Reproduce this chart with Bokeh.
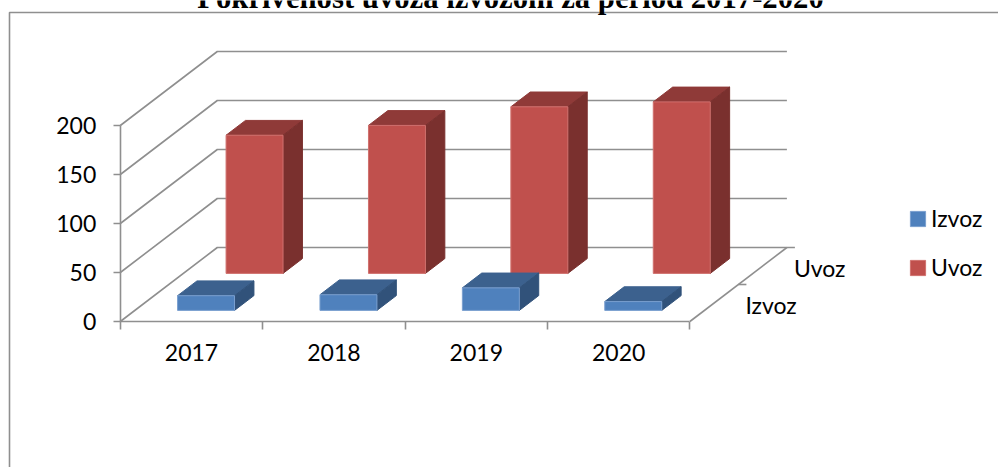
from bokeh.plotting import figure
from bokeh.embed import file_html
from bokeh.resources import INLINE
from bokeh.models import Range1d, LinearAxis, FixedTicker, Legend, LegendItem, Label
from bokeh.core.properties import value

# data
years = ["2017", "2018", "2019", "2020"]
series_names = ["Izvoz", "Uvoz"]
izvoz = [15, 16, 23, 9]
uvoz = [141, 151, 170, 175]
value_ticks = [0, 50, 100, 150, 200]
title_text = "Pokrivenost uvoza izvozom za period 2017-2020"

# layout / projection (pixels)
W, H = 998, 467
X0, Y0 = 119.8, 321.0      # front-left floor corner
CAT_PX = 142.4             # pixels per category
VAL_PX = 0.98              # pixels per unit value
DEPTH_DX, DEPTH_DY = 48.5, 37.0   # pixels per series in depth
GREY = "#8f8f8f"
FONT = "Lato"
FS = "23px"

def px_x(px):
    return (px - X0) / CAT_PX

def px_y(py):
    return (Y0 - py) / VAL_PX

def proj(cat, val, depth):
    return cat + depth * DEPTH_DX / CAT_PX, val + depth * DEPTH_DY / VAL_PX

p = figure(width=W, height=H, output_backend="svg", toolbar_location=None,
           x_range=Range1d(px_x(0), px_x(W)), y_range=Range1d(px_y(H), px_y(0)),
           x_axis_type=None, y_axis_type=None, min_border=0,
           margin=0)
p.outline_line_color = None
p.grid.visible = False

# outer chart frame
p.line([px_x(9), px_x(9), px_x(W + 5)], [px_y(H + 5), px_y(12), px_y(12)],
       line_color=GREY, line_width=1.6)

n_cat = len(years)
n_ser = len(series_names)

# walls: gridlines on the side wall and back wall
wall_xs, wall_ys = [], []
for v in value_ticks:
    a = proj(0, v, 0)
    b = proj(0, v, n_ser)
    c = proj(n_cat, v, n_ser)
    wall_xs.append([a[0], b[0], c[0]])
    wall_ys.append([a[1], b[1], c[1]])
# floor right edge
a = proj(n_cat, 0, 0)
b = proj(n_cat, 0, n_ser)
wall_xs.append([a[0], b[0]])
wall_ys.append([a[1], b[1]])
# depth ticks
for d in range(1, n_ser + 1):
    t = proj(n_cat, 0, d)
    wall_xs.append([t[0], t[0] + 8 / CAT_PX])
    wall_ys.append([t[1], t[1]])
p.multi_line(wall_xs, wall_ys, line_color=GREY, line_width=1.6)

# bars, back series first
face_colors = {
    "Izvoz": ("#4f81bd", "#3c618e", "#31527a", "#7a9fcf"),
    "Uvoz": ("#c0504d", "#8f3a38", "#7a302e", "#d0716e"),
}
front_renderers = {}
for s_idx in reversed(range(n_ser)):
    name = series_names[s_idx]
    vals = [izvoz, uvoz][s_idx]
    d0, d1 = s_idx + 0.3, s_idx + 0.7
    fx, fy, tx, ty, sx, sy = [], [], [], [], [], []
    for i, v in enumerate(vals):
        c0, c1 = i + 0.3, i + 0.7
        pts = [proj(c0, 0, d0), proj(c1, 0, d0), proj(c1, v, d0), proj(c0, v, d0)]
        fx.append([q[0] for q in pts]); fy.append([q[1] for q in pts])
        pts = [proj(c0, v, d0), proj(c1, v, d0), proj(c1, v, d1), proj(c0, v, d1)]
        tx.append([q[0] for q in pts]); ty.append([q[1] for q in pts])
        pts = [proj(c1, 0, d0), proj(c1, 0, d1), proj(c1, v, d1), proj(c1, v, d0)]
        sx.append([q[0] for q in pts]); sy.append([q[1] for q in pts])
    front, top, side, edge = face_colors[name]
    p.patches(tx, ty, fill_color=top, line_color=top, line_width=1)
    p.patches(sx, sy, fill_color=side, line_color=side, line_width=1)
    front_renderers[name] = p.patches(fx, fy, fill_color=front, line_color=edge, line_width=1)

# value axis
y_ax = LinearAxis(fixed_location=0, ticker=FixedTicker(ticks=value_ticks), bounds=(0, 200))
y_ax.axis_line_color = GREY
y_ax.axis_line_width = 1.6
y_ax.major_tick_line_color = GREY
y_ax.major_tick_line_width = 1.6
y_ax.major_tick_in = 0
y_ax.major_tick_out = 7
y_ax.minor_tick_line_color = None
y_ax.major_label_standoff = 17
y_ax.major_label_text_font = FONT
y_ax.major_label_text_font_size = FS
y_ax.major_label_text_color = "black"
p.add_layout(y_ax, "left")

# category tick marks
x_ax = LinearAxis(fixed_location=0, ticker=FixedTicker(ticks=list(range(n_cat + 1))), bounds=(0, n_cat))
x_ax.axis_line_color = GREY
x_ax.axis_line_width = 1.6
x_ax.major_tick_line_color = GREY
x_ax.major_tick_line_width = 1.6
x_ax.major_tick_in = 0
x_ax.major_tick_out = 8
x_ax.minor_tick_line_color = None
x_ax.major_label_text_font_size = "0px"
x_ax.major_label_text_color = None
p.add_layout(x_ax, "below")

# category labels
centres = [i + 0.5 for i in range(n_cat)]
lab_ax = LinearAxis(fixed_location=0, ticker=FixedTicker(ticks=centres),
                    major_label_overrides=dict(zip(centres, years)))
lab_ax.axis_line_color = None
lab_ax.major_tick_line_color = None
lab_ax.minor_tick_line_color = None
lab_ax.major_tick_in = 0
lab_ax.major_tick_out = 0
lab_ax.major_label_standoff = 22
lab_ax.major_label_text_font = FONT
lab_ax.major_label_text_font_size = FS
lab_ax.major_label_text_color = "black"
p.add_layout(lab_ax, "below")

# depth axis labels
lx, ly = [], []
for d in range(1, n_ser + 1):
    t = proj(n_cat, 0, d)
    lx.append(t[0] + 7 / CAT_PX)
    ly.append(t[1] - 20 / VAL_PX)
p.text(lx, ly, text=series_names, text_font=value(FONT), text_font_size=FS,
       text_color="black", text_align="left", text_baseline="middle")

# title, cut by the top of the page as in the reference
p.add_layout(Label(x=510, y=H + 3, x_units="screen", y_units="screen", text=title_text,
                   text_font="Liberation Serif", text_font_style="bold",
                   text_font_size="30.7px", text_color="black",
                   text_align="center", text_baseline="alphabetic"))

# legend
legend = Legend(items=[LegendItem(label=n, renderers=[front_renderers[n]]) for n in series_names],
                location=(908, H - 281), orientation="vertical")
legend.background_fill_color = None
legend.border_line_color = None
legend.padding = 0
legend.margin = 0
legend.glyph_width = 19
legend.glyph_height = 19
legend.label_height = 15
legend.spacing = 21
legend.label_standoff = 4
legend.label_text_font = FONT
legend.label_text_font_size = FS
legend.label_text_color = "black"
p.add_layout(legend, "center")

open("out.html", "w").write(file_html(p, INLINE))
